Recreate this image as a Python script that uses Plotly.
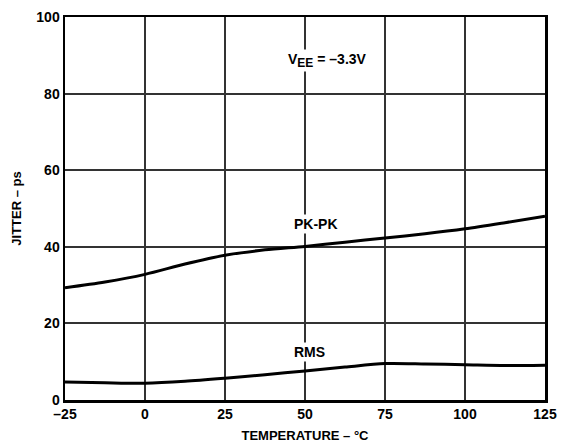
import plotly.graph_objects as go

temp = [-25, -12.5, 0, 12.5, 25, 37.5, 50, 62.5, 75, 87.5, 100, 112.5, 125]
pkpk = [29.3, 30.8, 32.8, 35.5, 37.8, 39.2, 40.1, 41.2, 42.3, 43.4, 44.7, 46.3, 48.0]
rms = [4.7, 4.5, 4.4, 4.9, 5.7, 6.6, 7.6, 8.6, 9.5, 9.4, 9.2, 9.0, 9.1]

x_ticks = [-25, 0, 25, 50, 75, 100, 125]
x_ticktext = ["–25", "0", "25", "50", "75", "100", "125"]
y_ticks = [0, 20, 40, 60, 80, 100]

font_family = "Liberation Sans, Arial, sans-serif"

fig = go.Figure()
for series in (pkpk, rms):
    fig.add_trace(go.Scatter(
        x=temp, y=series, mode="lines",
        line=dict(color="black", width=3, shape="spline", smoothing=0.8),
        showlegend=False, hoverinfo="skip",
    ))

ann_font = dict(family=font_family, size=14, color="black", weight="bold")
fig.add_annotation(x=57, y=88.6,
                   text="V<sub><span style='font-size:12px'>EE</span></sub> = –3.3V",
                   showarrow=False, bgcolor="white", font=ann_font, xref="x", yref="y")
fig.add_annotation(x=53.5, y=46.0, text="PK-PK", showarrow=False,
                   bgcolor="white", font=ann_font, xref="x", yref="y")
fig.add_annotation(x=51.5, y=12.6, text="RMS", showarrow=False,
                   bgcolor="white", font=ann_font, xref="x", yref="y")

fig.update_layout(
    width=561, height=444,
    margin=dict(l=65, r=16, t=17, b=44),
    paper_bgcolor="white", plot_bgcolor="white",
    font=dict(family=font_family, color="black"),
)
fig.update_xaxes(
    range=[-25, 125], tickvals=x_ticks, ticktext=x_ticktext, automargin=False,
    showgrid=True, gridcolor="#333333", gridwidth=1.8,
    showline=True, linecolor="black", linewidth=2.5, mirror=True,
    ticks="", zeroline=False,
    tickfont=dict(family=font_family, size=14, weight="bold"),
    title=dict(text="TEMPERATURE – °C", standoff=10,
               font=dict(family=font_family, size=13, weight="bold")),
)
fig.update_yaxes(
    range=[0, 100], tickvals=y_ticks, automargin=False,
    showgrid=True, gridcolor="#333333", gridwidth=1.8,
    showline=True, linecolor="black", linewidth=2.5, mirror=True,
    ticks="", zeroline=False,
    tickfont=dict(family=font_family, size=14, weight="bold"),
    title=dict(text="JITTER – ps", standoff=12,
               font=dict(family=font_family, size=13, weight="bold")),
)

fig.write_html(
    "out.html",
    config={"displayModeBar": False, "staticPlot": True},
    post_script="document.body.style.margin='0';document.documentElement.style.overflow='hidden';",
)
